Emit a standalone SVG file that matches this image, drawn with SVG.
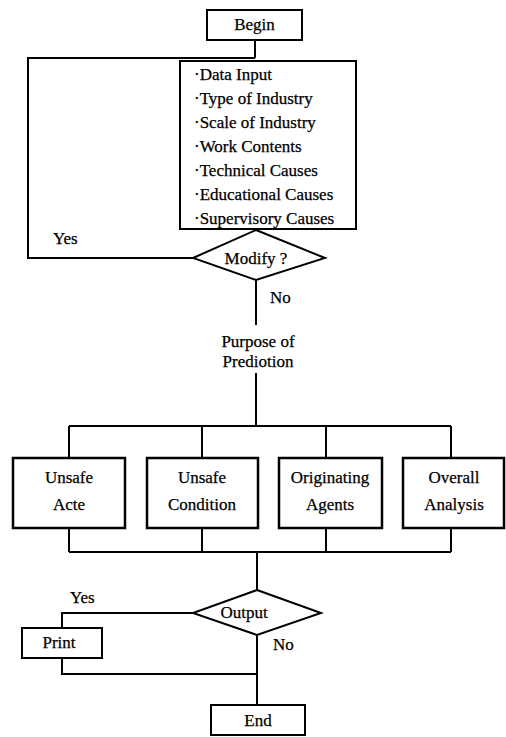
<svg xmlns="http://www.w3.org/2000/svg" width="506" height="737" viewBox="0 0 506 737">
<style>
.box{fill:#fff;stroke:#000;stroke-width:2}
.thick{fill:#fff;stroke:#000;stroke-width:2.5}
.ln{fill:none;stroke:#000;stroke-width:2}
text{font-family:"Liberation Serif","Times New Roman",serif;font-size:17px;fill:#000;stroke:#000;stroke-width:0.25}
.c{text-anchor:middle}
</style>
<rect width="506" height="737" fill="#fff"/>
<g id="connectors">
<path class="ln" d="M255 40 V58 M255 58 H28 V258 H193"/>
<path class="ln" d="M256 280 V325 M256 373 V426 M69 426 H451 M69 426 V458 M202 426 V458 M326 426 V458 M451 426 V458"/>
<path class="ln" d="M69 528 V552 M202 528 V552 M326 528 V552 M451 528 V552 M69 552 H451 M257 552 V590"/>
<path class="ln" d="M193 613 H62 V628 M62 658 V674 H257 M257 635 V705"/>
</g>
<g id="begin"><rect class="box" x="207" y="10" width="95" height="30"/><text class="c" x="254.5" y="30">Begin</text></g>
<g id="data">
<rect class="box" x="180" y="61" width="176" height="168"/>
<text x="194" y="80">·Data Input</text>
<text x="194" y="104">·Type of Industry</text>
<text x="194" y="128">·Scale of Industry</text>
<text x="194" y="152">·Work Contents</text>
<text x="194" y="176">·Technical Causes</text>
<text x="194" y="200">·Educational Causes</text>
<text x="194" y="224">·Supervisory Causes</text>
</g>
<g id="modify"><polygon class="box" points="256,230 325,258 256,280 193,258"/><text class="c" x="256" y="264">Modify ?</text></g>
<g id="labels">
<text x="53" y="244">Yes</text>
<text x="270" y="303">No</text>
<text x="70" y="603">Yes</text>
<text x="273" y="650">No</text>
</g>
<g id="purpose"><text class="c" x="258" y="347">Purpose of</text><text class="c" x="258" y="367">Prediotion</text></g>
<g id="unsafe-acte"><rect class="thick" x="13" y="458" width="112" height="70"/><text class="c" x="69" y="483">Unsafe</text><text class="c" x="69" y="510">Acte</text></g>
<g id="unsafe-condition"><rect class="thick" x="147" y="458" width="111" height="70"/><text class="c" x="202" y="483">Unsafe</text><text class="c" x="202" y="510">Condition</text></g>
<g id="originating-agents"><rect class="thick" x="279" y="458" width="103" height="70"/><text class="c" x="330" y="483">Originating</text><text class="c" x="330" y="510">Agents</text></g>
<g id="overall-analysis"><rect class="thick" x="403" y="458" width="101" height="70"/><text class="c" x="454" y="483">Overall</text><text class="c" x="454" y="510">Analysis</text></g>
<g id="output"><polygon class="box" points="257,590 321,613 257,635 193,613"/><text class="c" x="244" y="618">Output</text></g>
<g id="print"><rect class="box" x="22" y="628" width="80" height="30"/><text class="c" x="59" y="648">Print</text></g>
<g id="end"><rect class="box" x="211" y="705" width="94" height="30"/><text class="c" x="258" y="726">End</text></g>
</svg>
